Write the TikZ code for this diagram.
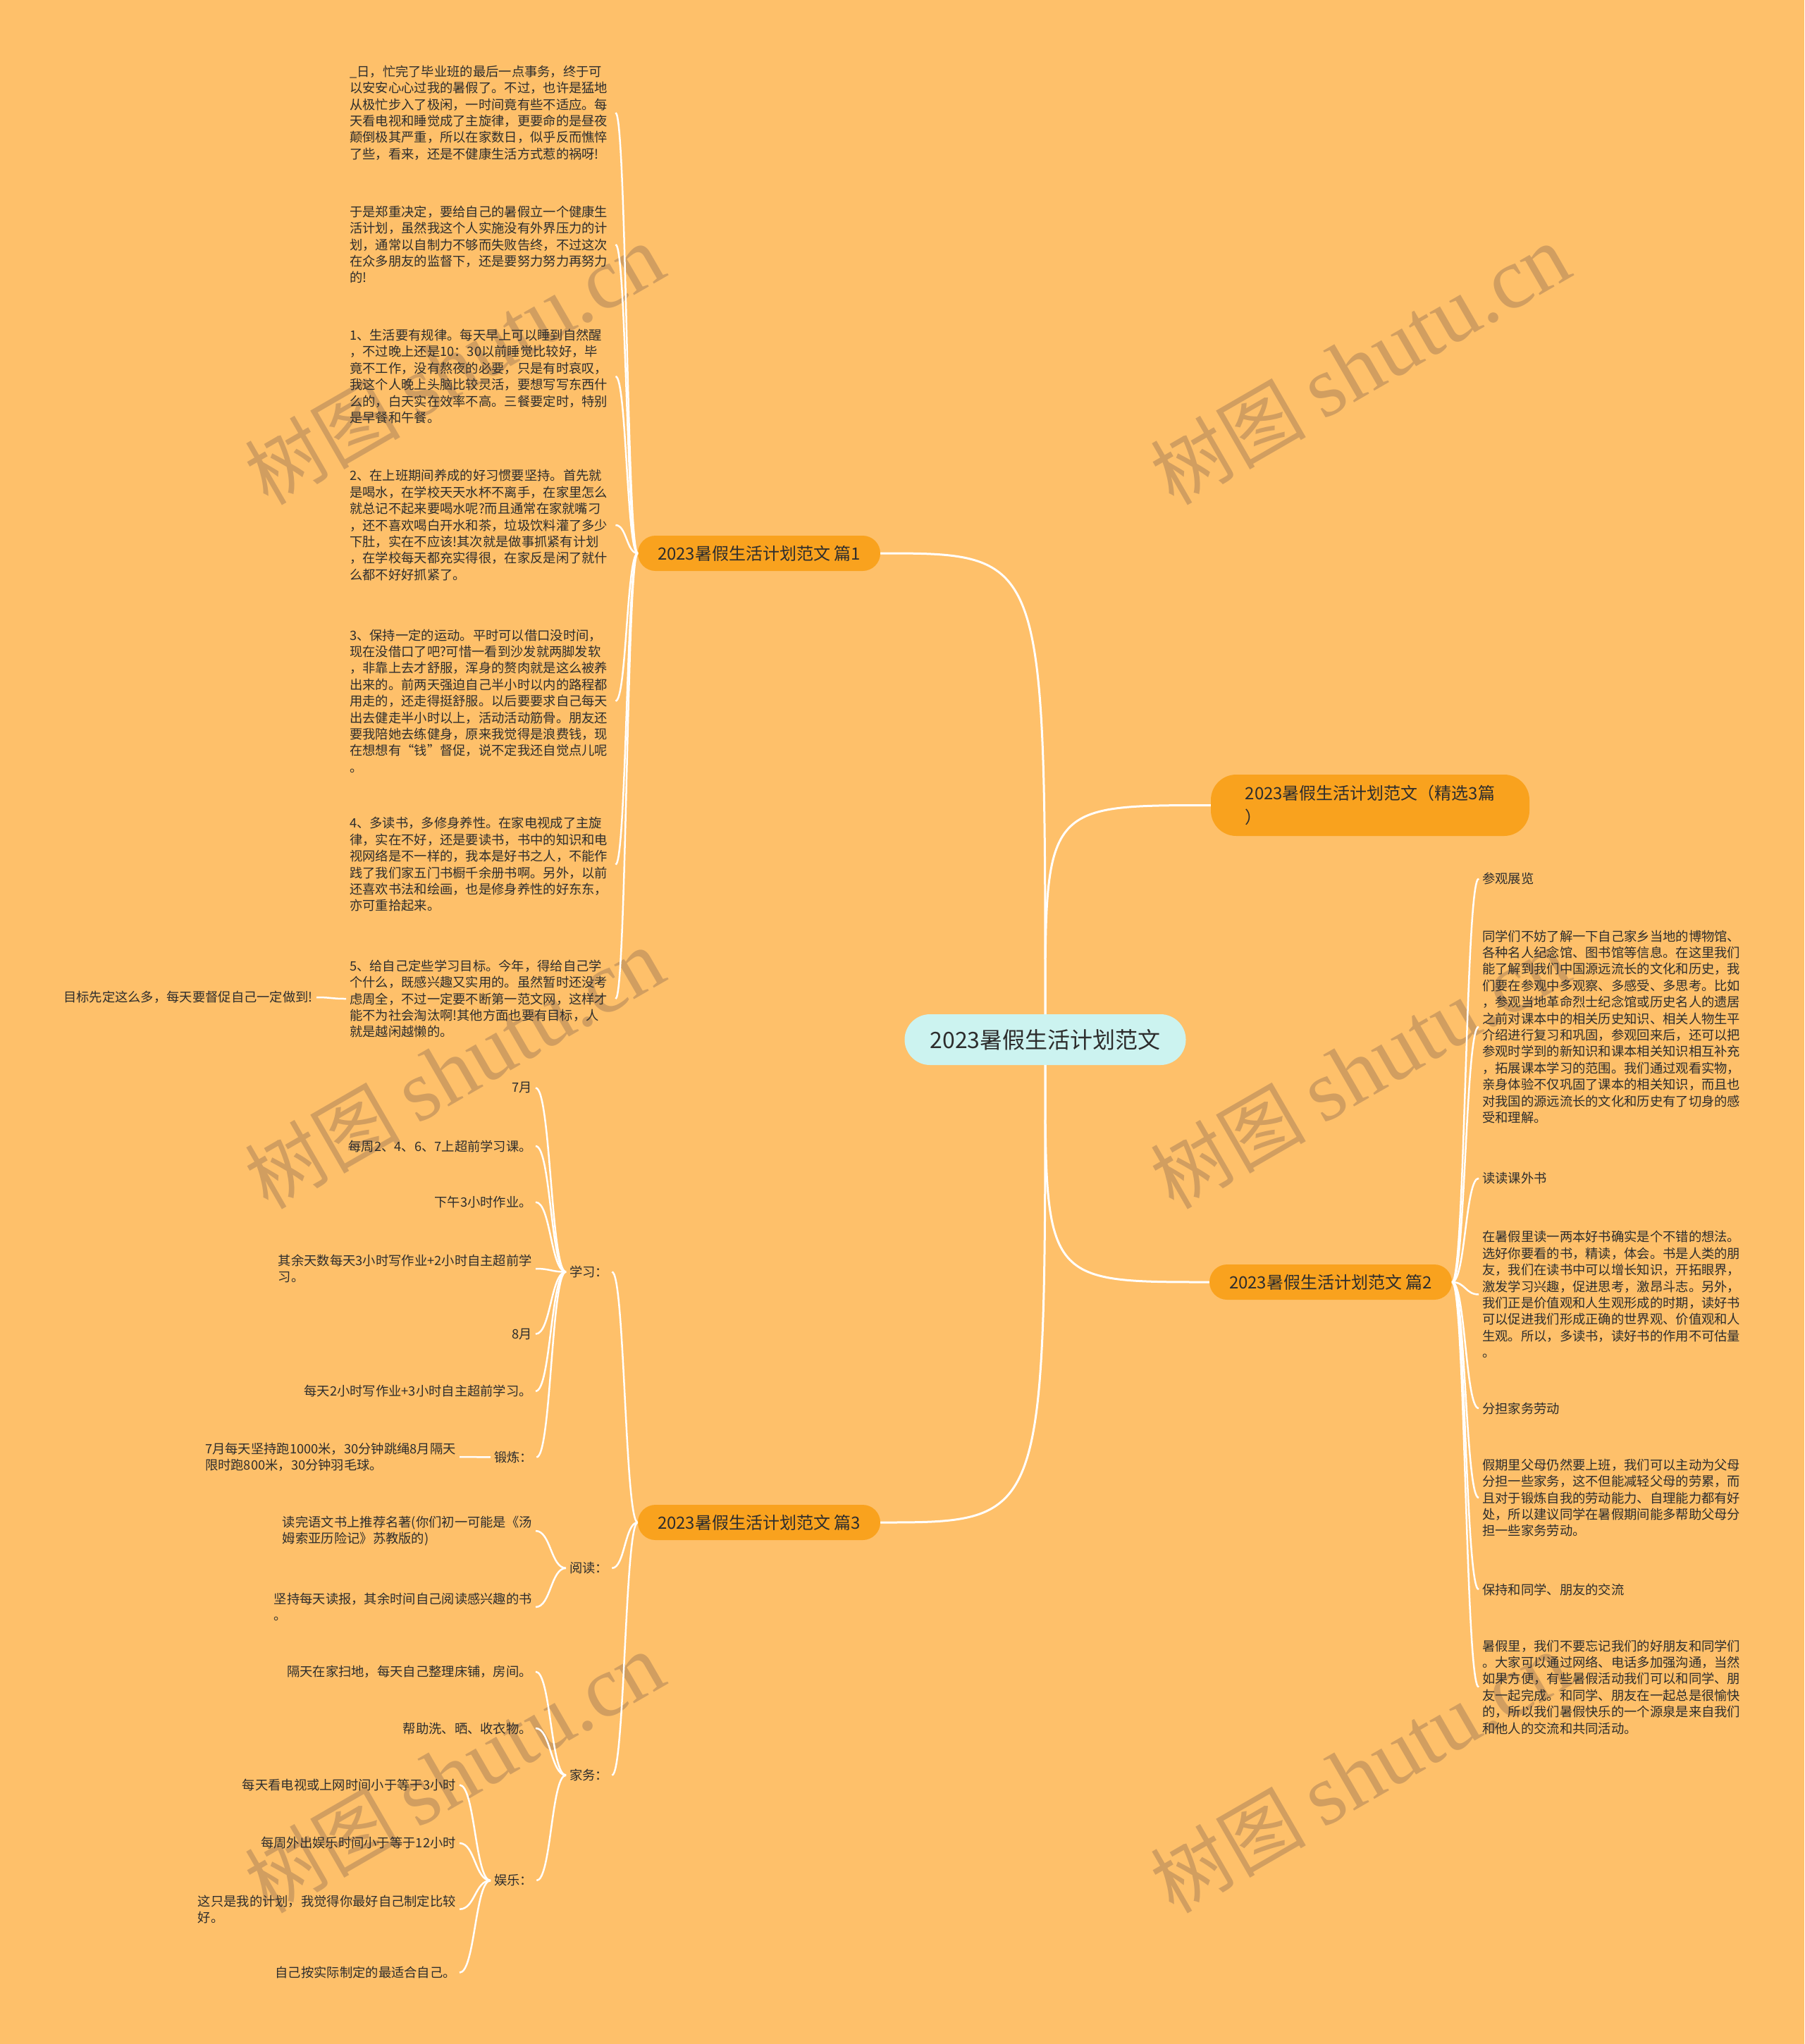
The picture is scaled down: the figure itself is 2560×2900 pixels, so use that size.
\documentclass[tikz,border=0pt]{standalone}
\usepackage{fontspec}
\setmainfont{Noto Sans CJK SC}
\newfontfamily\wmlat{Liberation Serif}
\usetikzlibrary{calc}
\definecolor{bg}{RGB}{254,192,106}
\definecolor{br}{RGB}{249,162,30}
\definecolor{ctr}{RGB}{204,243,240}
\definecolor{ink}{RGB}{45,45,45}
\definecolor{wmc}{RGB}{209,158,96}
\tikzset{
 txt/.style={font=\fontsize{18.3}{23.4}\selectfont, text=ink, inner xsep=5pt, inner ysep=3pt},
 blockL/.style={txt, anchor=west, align=left, text width=372pt},
 leafR/.style={txt, anchor=east, align=right},
 leafRL/.style={txt, anchor=east, align=left},
 leafL/.style={txt, anchor=west, align=left},
 branch/.style={fill=br, text=ink, rounded corners=25pt, minimum height=50pt, inner xsep=28pt, font=\fontsize{24}{34}\selectfont},
 centre/.style={fill=ctr, text=ink, rounded corners=36pt, minimum height=72pt, inner xsep=36pt, font=\fontsize{32}{38}\selectfont},
 mainline/.style={draw=white, line width=3pt},
 subline/.style={draw=white, line width=2.5pt},
 brace/.style={to path={let \p1=(\tikztostart), \p2=(\tikztotarget) in .. controls ({(\x1+\x2)/2},\y1) and ({(\x1+\x2)/2},\y2) .. (\tikztotarget) \tikztonodes}},
 wm/.style={text=wmc, rotate=30, inner sep=0pt}
}
\begin{document}
\begin{tikzpicture}[x=1pt,y=-1pt]
\fill[bg] (0,0) rectangle (2560,2900);
\useasboundingbox (0,0) rectangle (2560,2900);
% watermarks
\foreach \wx/\wy/\wn in {645/518/1,1930/518/2,645/1517/3,1930/1517/4,645/2516/5,1930/2516/6}{
  \node[wm] (wm\wn) at (\wx,\wy) {\fontsize{110}{120}\selectfont 树图 \wmlat\fontsize{123}{130}\selectfont shutu.cn};
}
% main nodes
\node[centre] (c) at (1483,1475) {2023暑假生活计划范文};
\node[branch] (b1) at (1077,785) {2023暑假生活计划范文 篇1};
\node[branch, align=left, minimum height=87pt, minimum width=452pt, rounded corners=36pt] (b0) at (1944,1142.5) {2023暑假生活计划范文（精选3篇\\）};
\node[branch] (b2) at (1888,1819) {2023暑假生活计划范文 篇2};
\node[branch] (b3) at (1077,2160) {2023暑假生活计划范文 篇3};
% main connectors
\draw[mainline] (c.north) .. controls (c.north |- b1.east) .. (b1.east);
\draw[mainline] (c.north) .. controls (c.north |- b0.west) .. (b0.west);
\draw[mainline] (c.south) .. controls (c.south |- b2.west) .. (b2.west);
\draw[mainline] (c.south) .. controls (c.south |- b3.east) .. (b3.east);
% branch 1 children
\node[blockL] (t1) at (491,160) {\_日，忙完了毕业班的最后一点事务，终于可\\以安安心心过我的暑假了。不过，也许是猛地\\从极忙步入了极闲，一时间竟有些不适应。每\\天看电视和睡觉成了主旋律，更要命的是昼夜\\颠倒极其严重，所以在家数日，似乎反而憔悴\\了些，看来，还是不健康生活方式惹的祸呀!};
\node[blockL] (t2) at (491,347) {于是郑重决定，要给自己的暑假立一个健康生\\活计划，虽然我这个人实施没有外界压力的计\\划，通常以自制力不够而失败告终，不过这次\\在众多朋友的监督下，还是要努力努力再努力\\的!};
\node[blockL] (t3) at (491,534) {1、生活要有规律。每天早上可以睡到自然醒\\，不过晚上还是10：30以前睡觉比较好，毕\\竟不工作，没有熬夜的必要，只是有时哀叹，\\我这个人晚上头脑比较灵活，要想写写东西什\\么的，白天实在效率不高。三餐要定时，特别\\是早餐和午餐。};
\node[blockL] (t4) at (491,745) {2、在上班期间养成的好习惯要坚持。首先就\\是喝水，在学校天天水杯不离手，在家里怎么\\就总记不起来要喝水呢?而且通常在家就嘴刁\\，还不喜欢喝白开水和茶，垃圾饮料灌了多少\\下肚，实在不应该!其次就是做事抓紧有计划\\，在学校每天都充实得很，在家反是闲了就什\\么都不好好抓紧了。};
\node[blockL] (t5) at (491,994.5) {3、保持一定的运动。平时可以借口没时间，\\现在没借口了吧?可惜一看到沙发就两脚发软\\，非靠上去才舒服，浑身的赘肉就是这么被养\\出来的。前两天强迫自己半小时以内的路程都\\用走的，还走得挺舒服。以后要要求自己每天\\出去健走半小时以上，活动活动筋骨。朋友还\\要我陪她去练健身，原来我觉得是浪费钱，现\\在想想有“钱”督促，说不定我还自觉点儿呢\\。};
\node[blockL] (t6) at (491,1226.5) {4、多读书，多修身养性。在家电视成了主旋\\律，实在不好，还是要读书，书中的知识和电\\视网络是不一样的，我本是好书之人，不能作\\践了我们家五门书橱千余册书啊。另外，以前\\还喜欢书法和绘画，也是修身养性的好东东，\\亦可重拾起来。};
\node[blockL] (t7) at (491,1417) {5、给自己定些学习目标。今年，得给自己学\\个什么，既感兴趣又实用的。虽然暂时还没考\\虑周全，不过一定要不断第一范文网，这样才\\能不为社会淘汰啊!其他方面也要有目标，人\\就是越闲越懒的。};
\node[leafR] (t7x) at (449,1415) {目标先定这么多，每天要督促自己一定做到!};
\foreach \k in {t1,t2,t3,t4,t5,t6,t7}{\draw[subline] (b1.west) to[brace] (\k.east);}
\draw[subline] (t7.west) to[brace] (t7x.east);
% branch 2 children
\node[leafL] (r1) at (2098,1246.7) {参观展览};
\node[blockL] (r2) at (2098,1456.7) {同学们不妨了解一下自己家乡当地的博物馆、\\各种名人纪念馆、图书馆等信息。在这里我们\\能了解到我们中国源远流长的文化和历史，我\\们要在参观中多观察、多感受、多思考。比如\\，参观当地革命烈士纪念馆或历史名人的遗居\\之前对课本中的相关历史知识、相关人物生平\\介绍进行复习和巩固，参观回来后，还可以把\\参观时学到的新知识和课本相关知识相互补充\\，拓展课本学习的范围。我们通过观看实物，\\亲身体验不仅巩固了课本的相关知识，而且也\\对我国的源远流长的文化和历史有了切身的感\\受和理解。};
\node[leafL] (r3) at (2098,1671.7) {读读课外书};
\node[blockL] (r4) at (2098,1836.5) {在暑假里读一两本好书确实是个不错的想法。\\选好你要看的书，精读，体会。书是人类的朋\\友，我们在读书中可以增长知识，开拓眼界，\\激发学习兴趣，促进思考，激昂斗志。另外，\\我们正是价值观和人生观形成的时期，读好书\\可以促进我们形成正确的世界观、价值观和人\\生观。所以，多读书，读好书的作用不可估量\\。};
\node[leafL] (r5) at (2098,1998) {分担家务劳动};
\node[blockL] (r6) at (2098,2125) {假期里父母仍然要上班，我们可以主动为父母\\分担一些家务，这不但能减轻父母的劳累，而\\且对于锻炼自我的劳动能力、自理能力都有好\\处，所以建议同学在暑假期间能多帮助父母分\\担一些家务劳动。};
\node[leafL] (r7) at (2098,2255) {保持和同学、朋友的交流};
\node[blockL] (r8) at (2098,2393.5) {暑假里，我们不要忘记我们的好朋友和同学们\\。大家可以通过网络、电话多加强沟通，当然\\如果方便，有些暑假活动我们可以和同学、朋\\友一起完成。和同学、朋友在一起总是很愉快\\的，所以我们暑假快乐的一个源泉是来自我们\\和他人的交流和共同活动。};
\foreach \k in {r1,r2,r3,r4,r5,r6,r7,r8}{\draw[subline] (b2.east) to[brace] (\k.west);}
% branch 3 children
\node[leafL] (s1) at (803,1804.5) {学习：};
\node[leafL] (s2) at (803,2224.8) {阅读：};
\node[leafL] (s3) at (803,2518.6) {家务：};
\foreach \k in {s1,s2,s3}{\draw[subline] (b3.west) to[brace] (\k.east);}
% study
\node[leafR] (a1) at (760,1543.5) {7月};
\node[leafR] (a2) at (760,1626) {每周2、4、6、7上超前学习课。};
\node[leafR] (a3) at (760,1705.6) {下午3小时作业。};
\node[leafRL] (a4) at (760,1800) {其余天数每天3小时写作业+2小时自主超前学\\习。};
\node[leafR] (a5) at (760,1892.6) {8月};
\node[leafR] (a6) at (760,1973.7) {每天2小时写作业+3小时自主超前学习。};
\node[leafL] (a7) at (696,2067.4) {锻炼：};
\foreach \k in {a1,a2,a3,a4,a5,a6,a7}{\draw[subline] (s1.west) to[brace] (\k.east);}
\node[leafRL] (a8) at (652,2067) {7月每天坚持跑1000米，30分钟跳绳8月隔天\\限时跑800米，30分钟羽毛球。};
\draw[subline] (a7.west) to[brace] (a8.east);
% reading
\node[leafRL] (d1) at (760,2172) {读完语文书上推荐名著(你们初一可能是《汤\\姆索亚历险记》苏教版的)};
\node[leafRL] (d2) at (760,2280) {坚持每天读报，其余时间自己阅读感兴趣的书\\。};
\foreach \k in {d1,d2}{\draw[subline] (s2.west) to[brace] (\k.east);}
% housework
\node[leafR] (h1) at (760,2371.7) {隔天在家扫地，每天自己整理床铺，房间。};
\node[leafR] (h2) at (760,2452) {帮助洗、晒、收衣物。};
\node[leafL] (h3) at (696,2668) {娱乐：};
\foreach \k in {h1,h2,h3}{\draw[subline] (s3.west) to[brace] (\k.east);}
\node[leafR] (e1) at (652,2532.4) {每天看电视或上网时间小于等于3小时};
\node[leafR] (e2) at (652,2615) {每周外出娱乐时间小于等于12小时};
\node[leafRL] (e3) at (652,2708.7) {这只是我的计划，我觉得你最好自己制定比较\\好。};
\node[leafR] (e4) at (652,2798.7) {自己按实际制定的最适合自己。};
\foreach \k in {e1,e2,e3,e4}{\draw[subline] (h3.west) to[brace] (\k.east);}
\end{tikzpicture}
\end{document}
